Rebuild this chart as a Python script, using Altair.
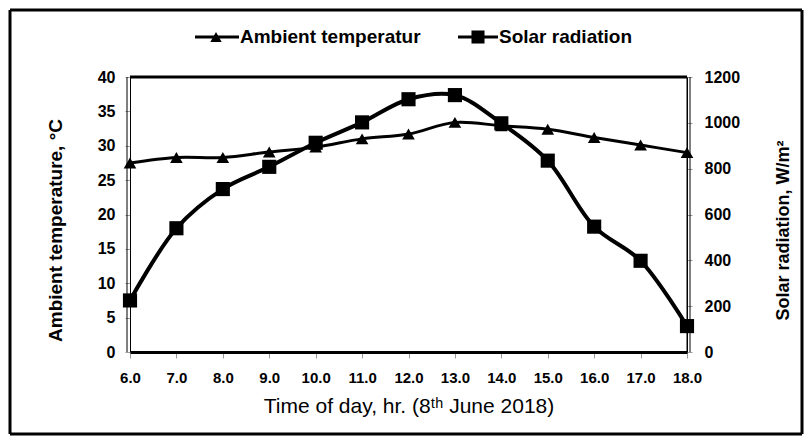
import altair as alt
import pandas as pd

hours = [6, 7, 8, 9, 10, 11, 12, 13, 14, 15, 16, 17, 18]
ambient_temp = [27.5, 28.3, 28.3, 29.1, 29.8, 31.0, 31.7, 33.4, 32.9, 32.4, 31.2, 30.1, 29.0]
solar_rad = [225, 540, 711, 808, 913, 1002, 1103, 1121, 998, 835, 547, 398, 113]

legend_labels = ["Ambient temperatur", "Solar radiation"]
x_title = "Time of day, hr. (8ᵗʰ June 2018)"
y_left_title = "Ambient temperature, °C"
y_right_title = "Solar radiation, W/m²"

df = pd.DataFrame({"hour": hours, "temp": ambient_temp, "solar": solar_rad})
one = pd.DataFrame({"k": [0]})

W, H = 557, 275
FONT = "Liberation Sans"

x_enc = alt.X("hour:Q", scale=alt.Scale(domain=[6, 18], nice=False),
              axis=alt.Axis(values=hours, format=".1f", title=x_title, grid=False,
                            labelOverlap=False, labelFlush=False,
                            domainColor="black", domainWidth=3, tickColor="#999999",
                            tickSize=6, labelPadding=12, labelFont=FONT, labelFontSize=15,
                            labelFontWeight="bold", labelColor="black",
                            titleFont=FONT, titleFontSize=21, titleFontWeight="normal",
                            titleColor="black", titlePadding=10))

yL = alt.Y("temp:Q", scale=alt.Scale(domain=[0, 40], nice=False),
           axis=alt.Axis(values=[0, 5, 10, 15, 20, 25, 30, 35, 40], title=y_left_title, orient="left",
                         tickCount=9, labelOverlap=False, labelFlush=False,
                         grid=False, domainColor="black", domainWidth=1, tickColor="#999999",
                         tickSize=5, labelPadding=10, labelFont=FONT, labelFontSize=16,
                         labelFontWeight="bold", labelColor="black",
                         titleFont=FONT, titleFontSize=19, titleFontWeight="bold",
                         titleColor="black", titleX=-75, titleY=153, titleAngle=270,
                         titleAlign="center", titleBaseline="middle"))

yR = alt.Y("solar:Q", scale=alt.Scale(domain=[0, 1200], nice=False),
           axis=alt.Axis(values=[0, 200, 400, 600, 800, 1000, 1200], title=y_right_title, orient="right",
                         format="d", labelOverlap=False, labelFlush=False,
                         grid=False, domainColor="black", domainWidth=1, tickColor="#999999",
                         tickSize=5, labelPadding=12, labelFont=FONT, labelFontSize=16,
                         labelFontWeight="bold", labelColor="black",
                         titleFont=FONT, titleFontSize=18, titleFontWeight="bold",
                         titleColor="black", titleX=96, titleY=153, titleAngle=270,
                         titleAlign="center", titleBaseline="middle"))

base = alt.Chart(df)
temp_line = base.mark_line(color="black", strokeWidth=3, interpolate="catmull-rom").encode(x=x_enc, y=yL)
temp_pts = base.mark_point(shape="triangle-up", filled=True, color="black", size=160, opacity=1).encode(x=x_enc, y=yL)
solar_line = base.mark_line(color="black", strokeWidth=4, interpolate="catmull-rom").encode(x=x_enc, y=yR)
solar_pts = base.mark_point(shape="square", filled=True, color="black", size=200, opacity=1).encode(x=x_enc, y=yR)

top_rule = alt.Chart(one).mark_rule(color="black", strokeWidth=3).encode(
    x=alt.value(0), x2=alt.value(W), y=alt.value(0))
left_rule2 = alt.Chart(one).mark_rule(color="black", strokeWidth=1).encode(
    x=alt.value(-3), y=alt.value(0), y2=alt.value(H))
right_rule = alt.Chart(one).mark_rule(color="black", strokeWidth=1).encode(
    x=alt.value(W), y=alt.value(0), y2=alt.value(H))
right_rule2 = alt.Chart(one).mark_rule(color="black", strokeWidth=1).encode(
    x=alt.value(W + 3), y=alt.value(0), y2=alt.value(H))

# outer frame
FL, FR, FT, FB = -120, W + 115, -67, H + 82
frame_parts = [
    alt.Chart(one).mark_rule(color="black", strokeWidth=3).encode(x=alt.value(FL), x2=alt.value(FR), y=alt.value(FT)),
    alt.Chart(one).mark_rule(color="black", strokeWidth=3).encode(x=alt.value(FL), x2=alt.value(FR), y=alt.value(FB)),
    alt.Chart(one).mark_rule(color="black", strokeWidth=3).encode(x=alt.value(FL), y=alt.value(FT), y2=alt.value(FB)),
    alt.Chart(one).mark_rule(color="black", strokeWidth=3).encode(x=alt.value(FR), y=alt.value(FT), y2=alt.value(FB)),
]

# legend
ly = -40
leg1_line = alt.Chart(one).mark_rule(color="black", strokeWidth=3).encode(
    x=alt.value(65), x2=alt.value(109), y=alt.value(ly))
leg1_pt = alt.Chart(one).mark_point(shape="triangle-up", filled=True, color="black", size=130, opacity=1).encode(
    x=alt.value(86), y=alt.value(ly))
leg1_txt = alt.Chart(one).mark_text(text=legend_labels[0], align="left", baseline="middle",
                                    font=FONT, fontSize=19, fontWeight="bold", color="black").encode(
    x=alt.value(110), y=alt.value(ly))
leg2_line = alt.Chart(one).mark_rule(color="black", strokeWidth=3).encode(
    x=alt.value(328), x2=alt.value(368), y=alt.value(ly))
leg2_pt = alt.Chart(one).mark_point(shape="square", filled=True, color="black", size=170, opacity=1).encode(
    x=alt.value(348), y=alt.value(ly))
leg2_txt = alt.Chart(one).mark_text(text=legend_labels[1], align="left", baseline="middle",
                                    font=FONT, fontSize=19, fontWeight="bold", color="black").encode(
    x=alt.value(369), y=alt.value(ly))

left_layer = alt.layer(temp_line, temp_pts)
right_layer = alt.layer(solar_line, solar_pts)

chart = alt.layer(left_layer, right_layer, top_rule, left_rule2, right_rule, right_rule2, *frame_parts,
                  leg1_line, leg1_pt, leg1_txt, leg2_line, leg2_pt, leg2_txt).resolve_scale(
    y="independent").properties(
    width=W, height=H,
    autosize=alt.AutoSizeParams(type="none"),
    padding={"left": 122, "top": 69, "right": 117, "bottom": 84},
    background="white",
).configure_view(stroke=None)

chart.save("out.html", embed_options={"renderer": "svg", "actions": False})
